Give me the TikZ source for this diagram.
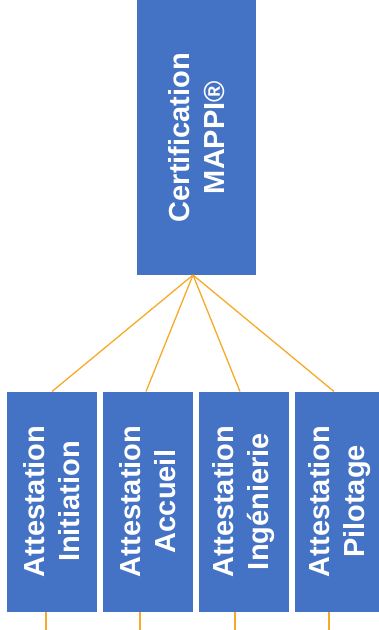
\documentclass[tikz,border=0pt]{standalone}
\usepackage{fontspec}
\setmainfont{Liberation Sans}
\definecolor{boxblue}{RGB}{68,114,196}
\definecolor{linkorange}{RGB}{247,170,40}

\begin{document}
\begin{tikzpicture}[x=1pt,y=-1pt,
  card/.style={fill=boxblue, inner sep=0pt, outer sep=0pt},
  cardtext/.style={rotate=90, align=center, text=white, inner sep=0pt,
    font=\fontsize{29}{35}\selectfont\bfseries},
  link/.style={draw=linkorange, line width=1.3pt}]
\clip (0,0) rectangle (379,630);

\node[card, minimum width=119, minimum height=275] (cert) at (196.5,137.5) {};
\node[cardtext] (cert-text) at (cert) {Certification\\MAPPI®};
\coordinate (hub) at ([xshift=-3.5]cert.south);

\foreach \name/\cx/\txt in {att1/52/Initiation, att2/148/Accueil, att3/244/Ingénierie, att4/339.5/Pilotage} {
  \node[card, minimum width=90, minimum height=220] (\name) at (\cx,501.5) {};
  \node[cardtext] (\name-text) at (\name) {Attestation\\\txt};
}

\foreach \name/\dx/\dy in {att1/0/-6, att2/-2/-8, att3/-4/-9, att4/-5.5/-10.5} {
  \coordinate (\name-end) at ([xshift=\dy, yshift=-20]\name.south);
  \draw[link] (hub) -- ([xshift=\dx]\name.north);
  \draw[link] ([xshift=\dy]\name.south) -- (\name-end);
}
\end{tikzpicture}
\end{document}
